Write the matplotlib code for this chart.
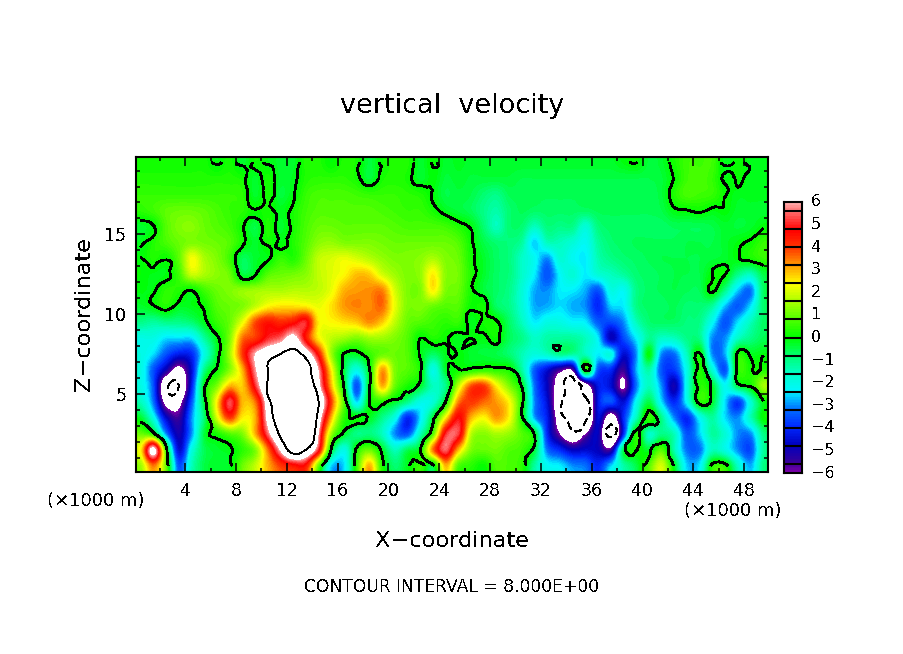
import matplotlib
matplotlib.use("Agg")
import matplotlib.pyplot as plt
import matplotlib.tri as mtri
import numpy as np
from matplotlib.colors import LinearSegmentedColormap, Normalize

# vertical velocity, top row first (z = 19.5 ... 0.5 km)
# each row: 25 values for x = 0.5 ... 24.5, then 25 for x = 25.5 ... 49.5
w_rows = [
    [0.2,0.2,0.2,0.2,0.2,0.2,-0.1,0.2,-0.3,0.1,-0.1,-0.3,-0.3,0.3,0.3,0,0.3,0.2,-0.4,0.1,0.3,0.3,-0.3,0.05,-0.3,
     -0.2,-0.3,-0.3,-0.3,-0.3,-0.3,-0.3,-0.3,-0.3,-0.3,-0.3,-0.3,-0.3,-0.1,0.02,-0.4,-0.3,0.2,0.6,0.6,0.6,-0.2,0.1,-0.2,-0.2],
    [0.3,0.3,0.3,0.3,0.3,0.3,0.3,0.3,0.2,-0.3,0.2,-0.3,-0.2,0.3,0.4,0.4,0.4,0.2,-0.4,0.2,0.3,0.2,-0.3,-0.05,-0.4,
     -0.3,-0.4,-0.4,-0.4,-0.4,-0.5,-0.5,-0.5,-0.5,-0.5,-0.5,-0.5,-0.5,-0.5,-0.5,-0.5,-0.4,0.05,0.6,0.7,0.5,-0.1,0.05,-0.2,-0.2],
    [0.5,0.5,0.5,0.5,0.5,0.5,0.5,0.5,0.4,-0.3,0.2,-0.4,-0.1,0.5,0.7,0.7,0.7,0.6,0.5,0.5,0.5,0.4,0.3,-0.05,-0.5,
     -0.4,-0.5,-0.8,-1,-0.6,-0.6,-0.6,-0.6,-0.6,-0.6,-0.6,-0.6,-0.6,-0.6,-0.6,-0.6,-0.4,0.3,0.7,0.6,0.5,0.05,-0.2,-0.2,-0.2],
    [0.4,0.6,0.9,1,1,0.9,0.7,0.5,0.4,0.05,0.2,-0.2,0.2,0.6,0.8,0.8,0.8,0.8,0.8,0.7,0.6,0.5,0.5,0.2,-0.2,
     -0.4,-0.6,-1,-1.3,-0.8,-0.6,-0.7,-0.7,-0.7,-0.7,-0.7,-0.6,-0.6,-0.6,-0.6,-0.6,-0.5,-0.1,-0.02,0.1,-0.1,-0.05,-0.3,-0.3,-0.3],
    [-0.3,-0.05,0.8,1.2,1.3,1,0.8,0.6,0.1,-0.5,0.3,-0.3,0.2,0.7,1,1,0.9,0.9,0.9,0.9,0.8,0.7,0.7,0.7,0.6,
     0.3,-0.1,-0.8,-1.5,-0.8,-0.8,-1.5,-0.9,-1,-1,-1.8,-0.9,-0.7,-0.7,-0.7,-0.7,-0.7,-0.6,-0.6,-0.6,-0.5,-0.3,-0.4,-0.3,-0.05],
    [-0.2,0.3,0.7,1,1.2,1.1,1,0.8,0.2,-0.3,0.2,-0.1,0.3,0.8,1.3,1.4,1.2,1.2,1.2,1.1,1,1,1,1,1,
     0.8,0.1,-0.5,-0.8,-0.9,-1.2,-2.6,-1.5,-1.5,-1.8,-2.2,-1.2,-0.8,-0.7,-0.6,-0.6,-0.6,-0.6,-0.5,-0.5,-0.5,-0.3,-0.1,0.1,0.5],
    [-0.05,0.3,0.1,0.9,2.3,1.6,1.2,0.6,-0.6,-0.3,-0.1,0.5,0.3,1,1.8,2,2.2,2,1.7,1.4,1.2,1.2,1.3,1.6,1.2,
     1,0.2,-0.3,-0.7,-0.9,-1.6,-2.2,-3,-1.8,-2.2,-2.4,-1.4,-1,-0.8,-0.7,-0.6,-0.5,-0.5,-0.5,-0.5,-0.4,-0.3,-0.05,0.2,0.5],
    [0,-0.15,-0.1,0.6,1.9,1.6,1.3,1,-0.4,-0.1,0.8,1,1.1,1.3,1.8,2.1,2.4,2.9,2.8,2,1.5,1.2,1.4,2.5,1.3,
     1.1,0.3,-0.3,-0.7,-0.9,-1.6,-2.4,-3.5,-2.3,-1.8,-2.4,-1.8,-1.5,-1.2,-0.8,-0.7,-0.6,-0.5,-0.5,-0.5,0,0.02,-1,-1.5,-0.5],
    [-0.1,-0.1,0.4,0.3,0,0.6,1,1.2,1.4,1.5,1.6,1.6,1.7,1.7,1.8,2.2,3,3.2,3.3,3.4,2,1.2,1.2,2.5,1.2,
     1,0.2,-0.4,-0.7,-1,-1.8,-2.8,-3,-2.4,-2.4,-2.8,-3.5,-2,-2.2,-1,-0.7,-0.6,-0.5,-0.6,-0.6,0.1,-1,-2.6,-3.2,-0.7],
    [-0.3,-0.05,0.3,-0.2,-0.15,0.1,0.8,1,1.2,1.8,2.4,2.6,2.6,2.5,2.2,2.6,3.2,3.4,3.3,3.6,2.2,1.2,1.2,1,0.8,
     0.8,0.1,0.15,-0.7,-1,-1.8,-2.8,-2.8,-2.5,-2.8,-3,-4,-2.6,-2.4,-1,-0.7,-0.7,-0.6,-0.8,-0.8,-1.2,-2.7,-3.4,-2.5,-0.8],
    [-1,-1.2,-1,-1,-0.8,-0.2,0.5,1,2.2,3.8,4.5,4.2,4.5,5,2.5,2.4,2.6,2.8,3.3,2.8,1.8,1,0.8,0.6,0.4,
     0.5,-0.2,0.15,0.1,-0.7,-1.5,-2.4,-2,-2,-2.3,-2.4,-3.4,-3.6,-3,-1.5,-0.8,-0.7,-0.7,-0.9,-1,-2.2,-3.5,-2.5,-1.5,-0.7],
    [-2,-2,-2.5,-2.5,-2.5,-1.2,-0.1,1.2,3.5,4,5,5.5,6.5,4.5,2.5,1.8,1.5,1.2,1.5,1.5,1.2,0.8,0,0.3,0.1,
     -0.2,0,-0.1,0.1,-0.6,-1,-1.6,-1.3,-1.2,-1.2,-1.5,-2.4,-4.8,-3.6,-2.4,-1.1,-1.6,-1.5,-1,-1,-3,-3,-1.6,-1,-0.6],
    [-2,-2.5,-3.5,-4.2,-4,-2,-0.3,1.5,4,6,7,8,9,7,4.5,1.5,-0.05,-0.2,0.5,1,1,0.8,-0.1,-0.7,-0.2,
     -0.02,-0.3,-0.4,-0.5,-0.8,-1.4,-1.9,-1.6,-1,-1.2,-1.5,-2.4,-2,-4.5,-3,-0.02,-3,-3.2,-1.5,0.1,-3,-2.8,0.2,-0.2,-0.1],
    [-2,-3.5,-5,-6.5,-4.5,-1,0.1,1.3,3,5.8,8,13,15,10,6,2.5,-0.4,-2,-0.1,3.2,1.2,0.8,0.2,-2,-0.3,
     0.1,0.3,0.5,0.4,0.2,-1.2,-3.4,-4.5,-5.6,-5.8,0.3,-3.5,-4,-5.5,-2.8,-1.3,-3.5,-3.8,-2,0.3,-1.8,-3.5,0.3,0.2,0.3],
    [-2,-3.5,-7.5,-8,-4.2,-0.1,1.2,3,2.8,5,8.3,13,15,11,6.5,3,-0.1,-3.5,-0.1,3,1,0.2,-0.3,-1.5,-1,
     1.8,3.8,4,2.5,1.2,-0.1,-3.2,-4.8,-7,-9,-7,-4.3,-4.5,-6.2,-3.2,-1.5,-3,-5,-2,0.3,-0.3,-2.2,-0.5,0.1,1.5],
    [-1.5,-3.2,-6.5,-6.5,-3.5,-0.3,2.5,5.3,3,3.5,7,12,15,14,8,4,0.8,-2.5,0,0.3,-0.3,-1,-2,-1.8,0,
     3.4,4,3.6,3.2,2.4,0.3,-3,-4.5,-7.5,-9.5,-9,-4.3,-3.5,-4.5,-2.2,-0.5,-2.5,-4,-2.2,0.3,-0.3,-2.5,-3.8,-1.8,-0.1],
    [-0.3,-2,-4.6,-5.5,-3,-0.8,2,4,2.5,3,6.5,10,14,13,7,3,0.4,0.1,-0.2,-1,-2,-4,-2.5,-0.3,2.5,
     4.8,3,2.4,3.2,2.4,0.2,-2.8,-4.2,-7,-9.5,-9,-4.5,-7,-4,-1.5,0.5,-1,-3,-4,-2.2,-1.2,-2.5,-3,-1.5,0],
    [1,0.2,-3,-5,-3,-0.4,0.2,0.8,1.2,3,5.5,8.5,12,12,6,1.5,-0.2,-1,-0.9,-1.5,-3,-3.5,-1.5,0.8,5,
     5.2,1.8,1.3,1.6,1.4,0.8,-0.1,-4,-6,-7.5,-6,-4.8,-9,-4,0.3,-1.6,-1,-1.5,-3.5,-2.6,-1.2,-1.8,-3,-3,-1],
    [2.5,6.5,0.5,-4.5,-2,-0.6,-0.3,-0.1,0.4,1.2,3.5,6.2,9,8,5,-0.1,-2,0.2,1,-0.2,-1.5,-0.6,0,3.5,5.5,
     3,1.2,1,1.1,0.8,0.6,-0.4,-3.2,-4,-4.8,-4.6,-4.8,-5.5,-0.5,0.2,-0.3,0.8,-1.4,-3.2,-3.2,-1.5,-2,-3,-3.6,-1.2],
    [1.5,3.5,1,-3.5,-1.5,-0.5,-0.3,-0.2,1,1.8,3,4,4.5,4.5,1,-2.5,-2.5,0.5,3,0.3,-0.8,-0.2,0.5,-0.3,3,
     0.8,0.4,0.05,0.8,0.7,0.4,-1.2,-2.2,-2.4,-3,-3.2,-4,-2.6,-1.3,-0.5,0.8,2,-0.2,-2.6,-2.4,0.3,0.3,-1.6,-2.8,-1],
]
x_tick_values = [4, 8, 12, 16, 20, 24, 28, 32, 36, 40, 44, 48]
z_tick_values = [5, 10, 15]
bar_labels = ["6", "5", "4", "3", "2", "1", "0", "\u22121", "\u22122", "\u22123", "\u22124", "\u22125", "\u22126"]
bar_label_values = [6, 5, 4, 3, 2, 1, 0, -1, -2, -3, -4, -5, -6]
bar_levels = [-5.6, -4.8, -4, -3.2, -2.4, -1.6, -0.8, 0, 0.8, 1.6, 2.4, 3.2, 4, 4.8, 5.6]
cmap_points = [
    (-6, "#7800a8"), (-5.6, "#380098"), (-4.8, "#0000c0"), (-4, "#0028ff"), (-3.2, "#0070ff"),
    (-2.4, "#00f8ff"), (-1.6, "#00ffc8"), (-0.8, "#00ff70"), (0, "#00ff00"), (0.8, "#50ff00"),
    (1.6, "#a8ff00"), (2.4, "#ffff00"), (3.2, "#ffa000"), (4, "#ff3800"), (4.8, "#ff0000"),
    (5.6, "#ff6868"), (6, "#ffa8a8"),
]

W, H = 904, 654
LEFT, RIGHT, TOP, BOTTOM = 136, 768, 157, 472


def px_text(fig, x, y, s, **kw):
    fig.text(x / W, 1 - y / H, s, **kw)


def main():
    plt.rcParams["font.family"] = "DejaVu Sans"
    plt.rcParams["text.antialiased"] = False

    w = np.array(w_rows, dtype=float)[::-1]
    x = np.arange(w.shape[1]) + 0.5
    z = np.arange(w.shape[0]) + 0.5

    cmap = LinearSegmentedColormap.from_list(
        "wind", [((v + 6) / 12, c) for v, c in cmap_points], N=96
    )
    cmap.set_over("white")
    cmap.set_under("white")
    norm = Normalize(-6, 6)

    fig = plt.figure(figsize=(W / 100, H / 100), dpi=100)
    ax = fig.add_axes([LEFT / W, 1 - BOTTOM / H, (RIGHT - LEFT) / W, (BOTTOM - TOP) / H])
    ax.imshow(w, origin="lower", extent=(0, 50, 0, 20), aspect="auto", cmap=cmap, norm=norm,
              interpolation="catrom", interpolation_stage="data")

    # matplotlib's own cubic refiner so the contour lines are not angular
    xx, zz = np.meshgrid(x, z)
    tri = mtri.Triangulation(xx.ravel(), zz.ravel())
    fine_tri, fine_w = mtri.UniformTriRefiner(tri).refine_field(w.ravel(), subdiv=2)
    ax.tricontour(fine_tri, fine_w, levels=[0], colors="black", linewidths=1.3, antialiased=False)
    ax.tricontour(fine_tri, fine_w, levels=[8], colors="black", linewidths=0.6, antialiased=False)
    ax.tricontour(fine_tri, fine_w, levels=[-8], colors="black", linewidths=0.6,
                  linestyles=[(0, (9, 5))], antialiased=False)
    ax.set_xlim(0.125, 49.875)
    ax.set_ylim(0.1, 19.85)

    ax.set_xticks(x_tick_values)
    ax.set_xticks(np.arange(2, 50, 4), minor=True)
    ax.set_yticks(z_tick_values)
    ax.set_yticks([v for v in range(1, 20) if v % 5], minor=True)
    ax.tick_params(which="major", direction="in", length=6.5, width=1.1, top=True, right=True,
                   labelsize=12.5, pad=7)
    ax.tick_params(which="minor", direction="in", length=3, width=1.1, top=True, right=True)
    for spine in ax.spines.values():
        spine.set_linewidth(1.5)

    # colour bar
    cax = fig.add_axes([784 / W, 1 - 473 / H, 18 / W, 271 / H])
    gradient = np.linspace(-6, 6, 192).reshape(-1, 1)
    cax.imshow(gradient, origin="lower", extent=(0, 1, -6, 6), aspect="auto", cmap=cmap, norm=norm)
    cax.hlines(bar_levels, 0, 1, colors="black", linewidth=1.5)
    cax.set_xticks([])
    cax.set_yticks([])
    for spine in cax.spines.values():
        spine.set_linewidth(1.5)
    for v, s in zip(bar_label_values, bar_labels):
        y_px = 473 - (v + 6) / 12 * 271
        px_text(fig, 811, y_px, s, fontsize=11.5, ha="left", va="center")

    px_text(fig, 452, 106, "vertical  velocity", fontsize=19.5, ha="center", va="center")
    px_text(fig, 452, 541, "X\u2212coordinate", fontsize=16.2, ha="center", va="center")
    px_text(fig, 84, 314, "Z\u2212coordinate", fontsize=16.2, ha="center", va="center", rotation=90)
    px_text(fig, 452, 587, "CONTOUR INTERVAL = 8.000E+00", fontsize=12.3, ha="center", va="center")
    px_text(fig, 96, 501, "(\u00d71000 m)", fontsize=13, ha="center", va="center")
    px_text(fig, 733, 511, "(\u00d71000 m)", fontsize=13, ha="center", va="center")

    fig.savefig("out.png", dpi=100, facecolor="white")
    plt.close(fig)


if __name__ == "__main__":
    main()
